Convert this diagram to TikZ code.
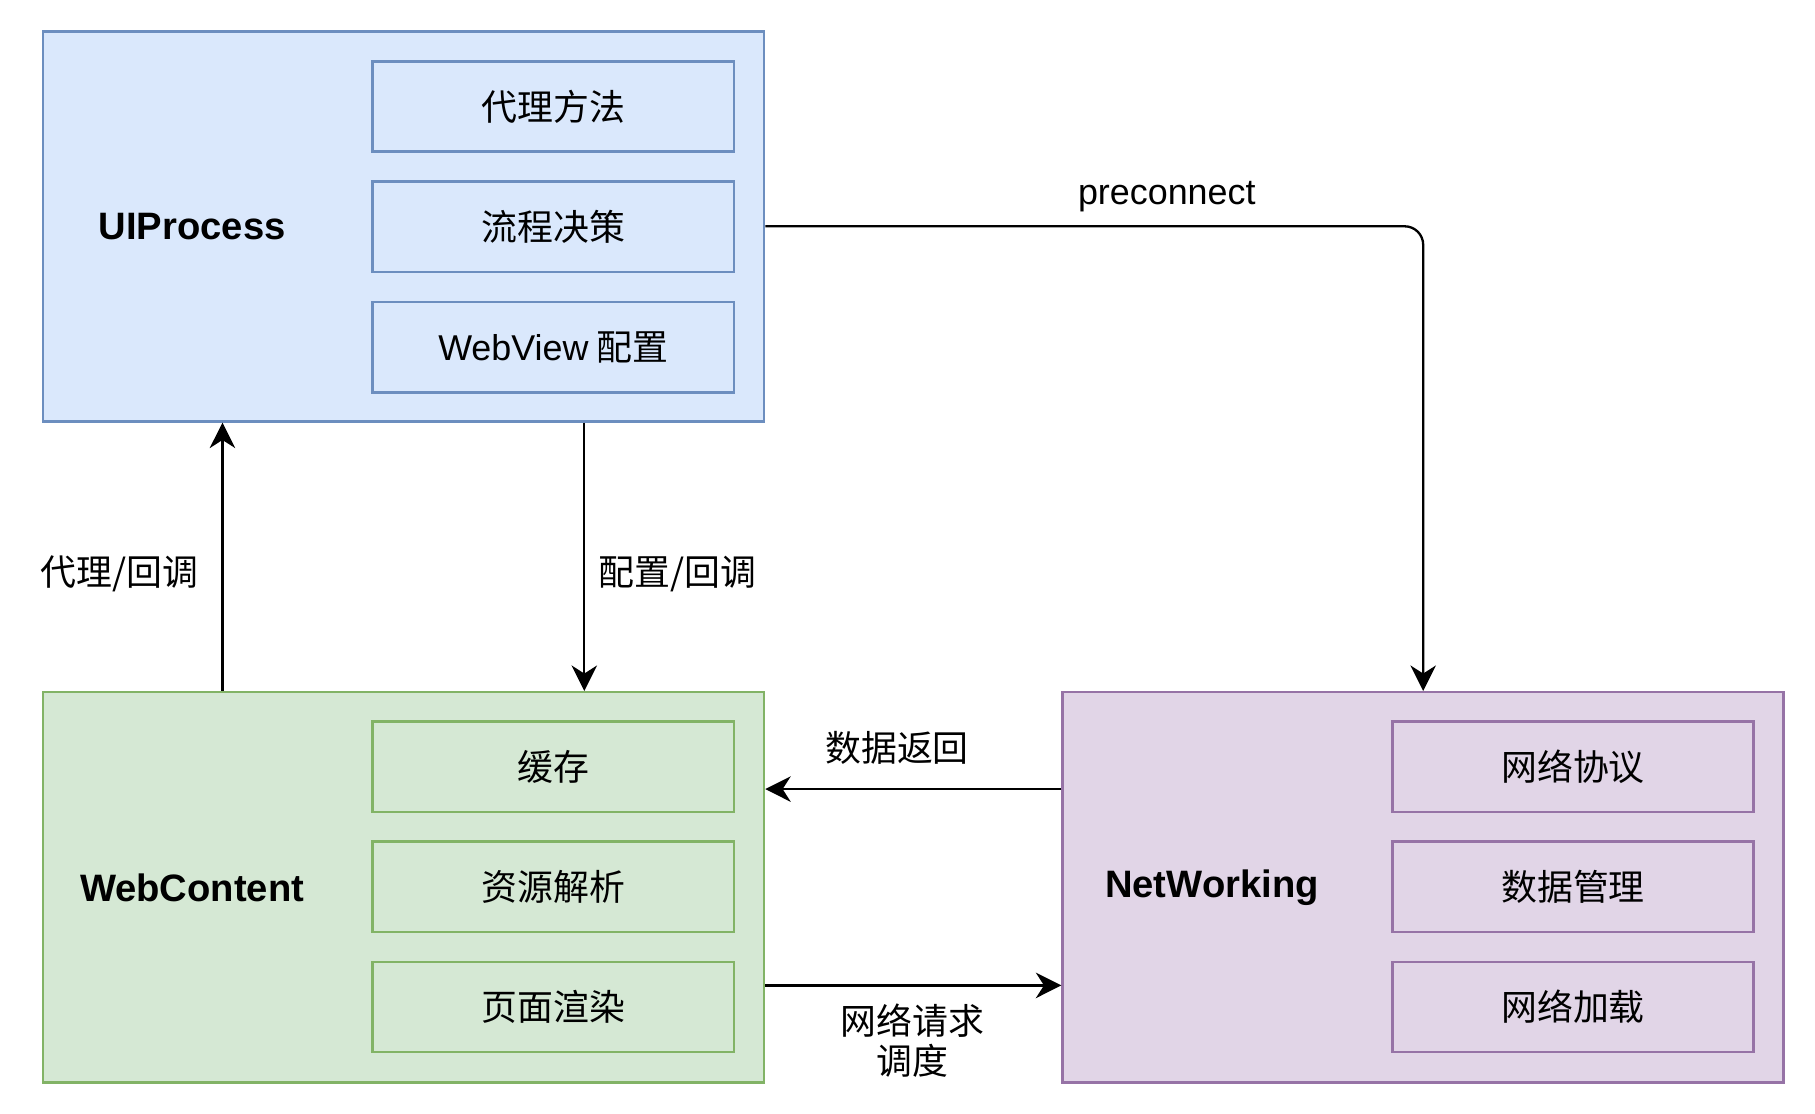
\documentclass[tikz,border=0pt]{standalone}
\usepackage{fontspec}
\setmainfont{Liberation Sans}
\newfontfamily\cjk{Noto Sans CJK SC}
\usetikzlibrary{calc,arrows.meta}
\definecolor{uifill}{HTML}{DAE8FC}
\definecolor{uiline}{HTML}{6C8EBF}
\definecolor{wcfill}{HTML}{D5E8D4}
\definecolor{wcline}{HTML}{82B366}
\definecolor{nwfill}{HTML}{E1D5E7}
\definecolor{nwline}{HTML}{9673A6}
\tikzset{
	procbox/.style={draw, line width=1.1pt, minimum width=311.5pt, minimum height=168.5pt, inner sep=0pt},
	partbox/.style={draw, line width=1.1pt, minimum width=156pt, minimum height=39pt, inner sep=0pt, font=\fontsize{15.5}{18}\selectfont\cjk},
	procname/.style={font=\fontsize{16.5}{19}\selectfont\bfseries},
	flowtext/.style={font=\fontsize{15.5}{17.5}\selectfont\cjk, align=center},
	flow/.style={line width=1pt, -{Stealth[length=11pt,width=11pt,inset=3.5pt]}},
}

\begin{document}
\begin{tikzpicture}[x=0.5pt, y=-0.5pt]
		%%%%% START %%%%%
		\useasboundingbox (0, 0) rectangle (1568, 962);
		
		\node[procbox, fill=uifill, draw=uiline] (ui) at (348.5, 195.5) {};
		\node[procbox, fill=wcfill, draw=wcline] (wc) at (348.5, 766.5) {};
		\node[procbox, fill=nwfill, draw=nwline] (nw) at (1229.5, 766.5) {};
		
		\node[procname] (uiname) at (166, 196) {UIProcess};
		\node[procname] (wcname) at (166, 767) {WebContent};
		\node[procname] (nwname) at (1047, 767) {NetWorking};
		
		\node[partbox, fill=uifill, draw=uiline] (uia) at (478, 92) {代理方法};
		\node[partbox, fill=uifill, draw=uiline] (uib) at (478, 196) {流程决策};
		\node[partbox, fill=uifill, draw=uiline] (uic) at (478, 300) {{\normalfont WebView} 配置};
		
		\node[partbox, fill=wcfill, draw=wcline] (wca) at (478, 662.5) {缓存};
		\node[partbox, fill=wcfill, draw=wcline] (wcb) at (478, 766) {资源解析};
		\node[partbox, fill=wcfill, draw=wcline] (wcc) at (478, 870) {页面渲染};
		
		\node[partbox, fill=nwfill, draw=nwline] (nwa) at (1359, 662.5) {网络协议};
		\node[partbox, fill=nwfill, draw=nwline] (nwb) at (1359, 766) {数据管理};
		\node[partbox, fill=nwfill, draw=nwline] (nwc) at (1359, 870) {网络加载};
		
		% connectors
		\draw[flow] ($(wc.north west)!0.25!(wc.north east)$) -- ($(ui.south west)!0.25!(ui.south east)$);
		\draw[flow] ($(ui.south west)!0.75!(ui.south east)$) -- ($(wc.north west)!0.75!(wc.north east)$);
		\draw[flow, rounded corners=8pt] (ui.east) -| (nw.north);
		\draw[flow] ($(nw.north west)!0.25!(nw.south west)$) -- ($(wc.north east)!0.25!(wc.south east)$);
		\draw[flow] ($(wc.north east)!0.75!(wc.south east)$) -- ($(nw.north west)!0.75!(nw.south west)$);
		
		\node[flowtext] (lbproxy) at (103, 496) {代理/回调};
		\node[flowtext] (lbconf) at (585, 496) {配置/回调};
		\node[flowtext, font=\fontsize{15.5}{17.5}\selectfont] (lbpre) at (1008, 170) {preconnect};
		\node[flowtext] (lbback) at (775, 646) {数据返回};
		\node[flowtext] (lbreq) at (788, 899) {网络请求\\调度};
		
		%%%%% END %%%%%
	\end{tikzpicture}
\end{document}
